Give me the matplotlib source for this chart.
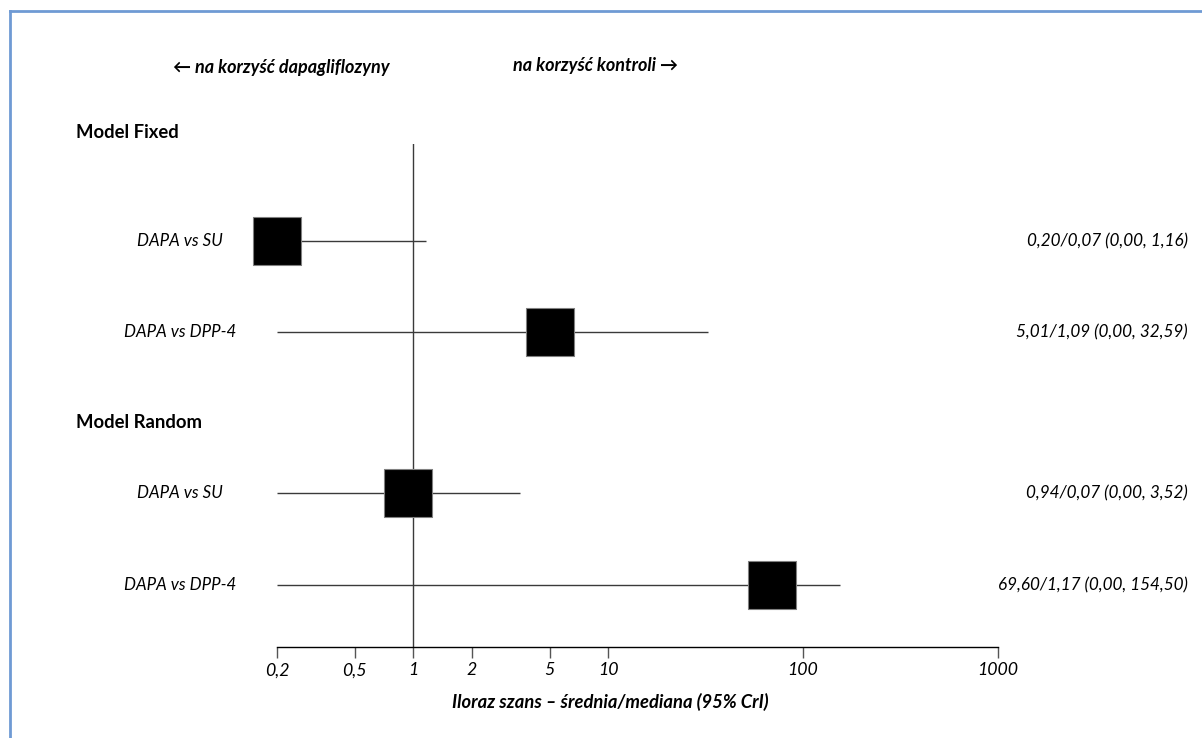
import numpy as np
import matplotlib.pyplot as plt
from matplotlib.lines import Line2D

# data
models = ['Model Fixed', 'Model Random']
comparisons = ['DAPA vs SU', 'DAPA vs DPP-4', 'DAPA vs SU', 'DAPA vs DPP-4']
mean_or = [0.20, 5.01, 0.94, 69.60]
median_or = [0.07, 1.09, 0.07, 1.17]
lower_cri = [0.00, 0.00, 0.00, 0.00]
upper_cri = [1.16, 32.59, 3.52, 154.50]
tick_values = [0.2, 0.5, 1, 2, 5, 10, 100, 1000]
tick_labels = ['0,2', '0,5', '1', '2', '5', '10', '100', '1000']

FONT = ['Lato', 'DejaVu Sans']
plt.rcParams['font.family'] = FONT

W, H = 1202, 738
fig = plt.figure(figsize=(W / 100, H / 100), dpi=100)


def fx(x):
    return x / W


def fy(y):
    return 1 - y / H


# layout in pixels (from the top-left corner)
axis_y, top_y = 647, 144
x_left, x_right = 277.3, 997.7
rows_y = [241, 332, 493, 585]
header_y = [132, 422]

ax = fig.add_axes([fx(x_left), fy(axis_y), fx(x_right - x_left), (axis_y - top_y) / H])
ax.set_xscale('log')
ax.set_xlim(tick_values[0], tick_values[-1])
ax.set_ylim(axis_y, top_y)

# credible intervals (lower bound 0 cannot be shown on a log axis)
lo = np.maximum(lower_cri, tick_values[0])
ax.hlines(rows_y, lo, upper_cri, color='#3a3a3a', lw=1.0, clip_on=False, zorder=2)
ax.axvline(1, color='#3a3a3a', lw=1.0, zorder=1)
side = 47 * 72 / 100
ax.scatter(mean_or, rows_y, marker='s', s=side ** 2, c='black',
           edgecolors='#808080', linewidths=0.8, zorder=3, clip_on=False)

for s in ['top', 'right', 'left']:
    ax.spines[s].set_visible(False)
ax.spines['bottom'].set_linewidth(1.0)
ax.set_yticks([])
ax.set_xticks(tick_values)
ax.set_xticklabels(tick_labels, fontstyle='italic', fontsize=12.8)
ax.minorticks_off()
ax.tick_params(axis='x', length=8, width=1, color='#555555', pad=3)
ax.patch.set_alpha(0)

# texts
fig.text(fx(281.5), fy(68), '\u2190 na korzyść dapagliflozyny', ha='center', va='center',
         fontsize=13, fontweight='bold', fontstyle='italic')
fig.text(fx(595.5), fy(66), 'na korzyść kontroli \u2192', ha='center', va='center',
         fontsize=13, fontweight='bold', fontstyle='italic')
for name, y in zip(models, header_y):
    fig.text(fx(76), fy(y), name, ha='left', va='center', fontsize=13.3, fontweight='bold')

for name, y, m, md, l, u in zip(comparisons, rows_y, mean_or, median_or, lower_cri, upper_cri):
    fig.text(fx(180), fy(y), name, ha='center', va='center', fontsize=12.2, fontstyle='italic')
    txt = f'{m:.2f}/{md:.2f} ({l:.2f}, {u:.2f})'.replace('.', ',')
    fig.text(fx(1188), fy(y), txt, ha='right', va='center', fontsize=12.3, fontstyle='italic')

fig.text(fx(610), fy(702), 'Iloraz szans \u2013 średnia/mediana (95% CrI)', ha='center',
         va='center', fontsize=13.2, fontweight='bold', fontstyle='italic')

# frame: only the top and left edges fall inside the picture
fig.add_artist(Line2D([fx(10), 1], [fy(11), fy(11)], color='#6f9ad4', lw=2))
fig.add_artist(Line2D([fx(10), fx(10)], [fy(11), 0], color='#6f9ad4', lw=2))

fig.savefig('out.png', dpi=100)
